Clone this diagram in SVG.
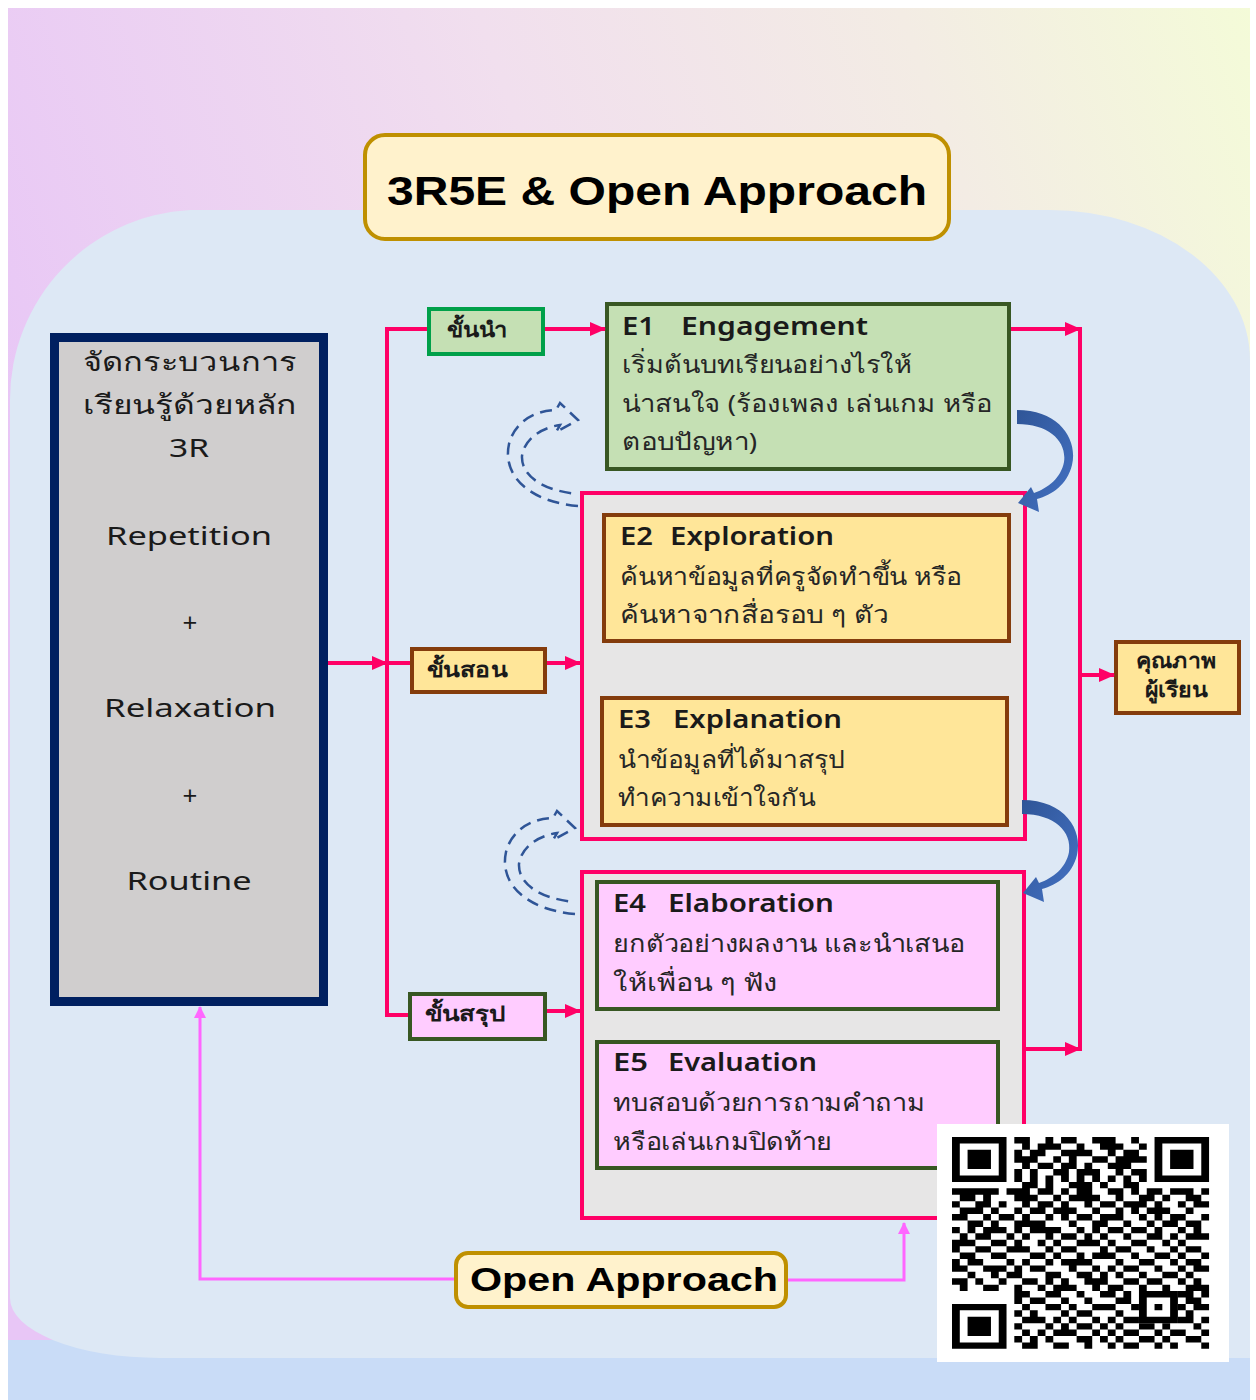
<svg xmlns="http://www.w3.org/2000/svg" width="1256" height="1400" viewBox="0 0 1256 1400">
<defs>
<linearGradient id="bg" gradientUnits="userSpaceOnUse" x1="0" y1="450" x2="1250" y2="0">
<stop offset="0" stop-color="#e8c6f6"/><stop offset="0.45" stop-color="#f1dfee"/><stop offset="0.75" stop-color="#f3ece4"/><stop offset="1" stop-color="#f4fbd8"/>
</linearGradient>
<linearGradient id="blue" x1="0" y1="0" x2="1" y2="1">
<stop offset="0" stop-color="#2f5597"/><stop offset="1" stop-color="#4472c4"/>
</linearGradient>
<marker id="ap" markerWidth="16" markerHeight="14" refX="15" refY="7" orient="auto" markerUnits="userSpaceOnUse"><path d="M0 0L16 7L0 14z" fill="#ff0066"/></marker>
<marker id="am" markerWidth="12" markerHeight="14" refX="11" refY="6" orient="auto" markerUnits="userSpaceOnUse"><path d="M0 0L12 6L0 12z" fill="#ff66ff"/></marker>
<style>
.th{font-family:"Noto Sans","DejaVu Sans",sans-serif;font-size:24px;fill:#262626}
.en{font-family:"Noto Sans","DejaVu Sans",sans-serif;font-size:25px;font-weight:600;fill:#1a1a1a}
.lb{font-family:"Noto Sans","DejaVu Sans",sans-serif;font-size:26px;fill:#1a1a1a}
.st{font-family:"Noto Sans","DejaVu Sans",sans-serif;font-size:21px;font-weight:bold;fill:#1a1a1a}
.ttl{font-family:"Liberation Sans",Arial,sans-serif;font-weight:bold;fill:#000}
.pk{fill:none;stroke:#ff0066;stroke-width:4}
.mg{fill:none;stroke:#ff66ff;stroke-width:3}
.dash{fill:none;stroke:#2f5597;stroke-width:2.5;stroke-dasharray:12 7}
</style>
</defs>
<rect x="0" y="0" width="1256" height="1400" fill="#ffffff"/>
<rect x="8" y="8" width="1242" height="1392" fill="url(#bg)"/>
<rect x="8" y="1340" width="1242" height="60" fill="#c9dcf7"/>
<path d="M10 1298V400A190 190 0 0 1 190 210H1050A200 150 0 0 1 1250 360V1358H160A150 60 0 0 1 10 1298Z" fill="#dde8f5"/>

<g id="title"><rect x="365" y="135" width="584" height="104" rx="20" fill="#fff2cc" stroke="#bf9000" stroke-width="4"/>
<text class="ttl" x="657" y="205" text-anchor="middle" font-size="40" textLength="540" lengthAdjust="spacingAndGlyphs">3R5E &amp; Open Approach</text></g>

<g id="left3r"><rect x="54.5" y="337.5" width="269" height="664" fill="#d0cece" stroke="#002060" stroke-width="9"/>
<text class="lb" x="190" y="371" text-anchor="middle" textLength="214" lengthAdjust="spacingAndGlyphs">จัดกระบวนการ</text>
<text class="lb" x="190" y="414" text-anchor="middle" textLength="214" lengthAdjust="spacingAndGlyphs">เรียนรู้ด้วยหลัก</text>
<text class="lb" x="189" y="457" text-anchor="middle" textLength="40" lengthAdjust="spacingAndGlyphs">3R</text>
<text class="lb" x="189" y="545" text-anchor="middle" textLength="166" lengthAdjust="spacingAndGlyphs">Repetition</text>
<text class="lb" x="190" y="632" text-anchor="middle" font-size="30">+</text>
<text class="lb" x="190" y="717" text-anchor="middle" textLength="172" lengthAdjust="spacingAndGlyphs">Relaxation</text>
<text class="lb" x="190" y="805" text-anchor="middle" font-size="30">+</text>
<text class="lb" x="189" y="890" text-anchor="middle" textLength="125" lengthAdjust="spacingAndGlyphs">Routine</text></g>

<g id="step1"><rect x="429" y="309" width="114" height="45" fill="#c5e0b4" stroke="#00a04a" stroke-width="4"/>
<text class="st" x="447" y="337" textLength="61" lengthAdjust="spacingAndGlyphs">ขั้นนำ</text></g>
<g id="step2"><rect x="412" y="649" width="133" height="43" fill="#ffe699" stroke="#843c0c" stroke-width="4"/>
<text class="st" x="427" y="677" textLength="80" lengthAdjust="spacingAndGlyphs">ขั้นสอน</text></g>
<g id="step3"><rect x="410" y="994" width="135" height="45" fill="#ffccff" stroke="#385723" stroke-width="4"/>
<text class="st" x="425" y="1021" textLength="80" lengthAdjust="spacingAndGlyphs">ขั้นสรุป</text></g>

<g id="e1"><rect x="607" y="304" width="402" height="165" fill="#c5e0b4" stroke="#385723" stroke-width="4"/>
<text class="en" x="622" y="335" textLength="33" lengthAdjust="spacingAndGlyphs">E1</text>
<text class="en" x="681" y="335" textLength="187" lengthAdjust="spacingAndGlyphs">Engagement</text>
<text class="th" x="622" y="373" textLength="290" lengthAdjust="spacingAndGlyphs">เริ่มต้นบทเรียนอย่างไรให้</text>
<text class="th" x="622" y="412" textLength="370" lengthAdjust="spacingAndGlyphs">น่าสนใจ (ร้องเพลง เล่นเกม หรือ</text>
<text class="th" x="622" y="450" textLength="135" lengthAdjust="spacingAndGlyphs">ตอบปัญหา)</text></g>

<g id="group1"><rect x="582" y="493" width="443" height="346" fill="#e7e6e6" stroke="#ff0066" stroke-width="4"/></g>
<g id="e2"><rect x="604" y="515" width="405" height="126" fill="#ffe699" stroke="#843c0c" stroke-width="4"/>
<text class="en" x="620" y="545" textLength="33" lengthAdjust="spacingAndGlyphs">E2</text>
<text class="en" x="670" y="545" textLength="164" lengthAdjust="spacingAndGlyphs">Exploration</text>
<text class="th" x="620" y="585" textLength="342" lengthAdjust="spacingAndGlyphs">ค้นหาข้อมูลที่ครูจัดทำขึ้น หรือ</text>
<text class="th" x="620" y="623" textLength="268" lengthAdjust="spacingAndGlyphs">ค้นหาจากสื่อรอบ ๆ ตัว</text></g>
<g id="e3"><rect x="602" y="698" width="405" height="127" fill="#ffe699" stroke="#843c0c" stroke-width="4"/>
<text class="en" x="618" y="728" textLength="33" lengthAdjust="spacingAndGlyphs">E3</text>
<text class="en" x="673" y="728" textLength="169" lengthAdjust="spacingAndGlyphs">Explanation</text>
<text class="th" x="618" y="768" textLength="227" lengthAdjust="spacingAndGlyphs">นำข้อมูลที่ได้มาสรุป</text>
<text class="th" x="618" y="806" textLength="197" lengthAdjust="spacingAndGlyphs">ทำความเข้าใจกัน</text></g>

<g id="group2"><rect x="582" y="872" width="442" height="346" fill="#e7e6e6" stroke="#ff0066" stroke-width="4"/></g>
<g id="e4"><rect x="597" y="882" width="401" height="127" fill="#ffccff" stroke="#385723" stroke-width="4"/>
<text class="en" x="613" y="912" textLength="33" lengthAdjust="spacingAndGlyphs">E4</text>
<text class="en" x="668" y="912" textLength="166" lengthAdjust="spacingAndGlyphs">Elaboration</text>
<text class="th" x="613" y="952" textLength="352" lengthAdjust="spacingAndGlyphs">ยกตัวอย่างผลงาน และนำเสนอ</text>
<text class="th" x="613" y="991" textLength="165" lengthAdjust="spacingAndGlyphs">ให้เพื่อน ๆ ฟัง</text></g>
<g id="e5"><rect x="597" y="1042" width="401" height="126" fill="#ffccff" stroke="#385723" stroke-width="4"/>
<text class="en" x="613" y="1071" textLength="35" lengthAdjust="spacingAndGlyphs">E5</text>
<text class="en" x="668" y="1071" textLength="149" lengthAdjust="spacingAndGlyphs">Evaluation</text>
<text class="th" x="613" y="1111" textLength="312" lengthAdjust="spacingAndGlyphs">ทบสอบด้วยการถามคำถาม</text>
<text class="th" x="613" y="1150" textLength="219" lengthAdjust="spacingAndGlyphs">หรือเล่นเกมปิดท้าย</text></g>

<g id="quality"><rect x="1116" y="642" width="123" height="71" fill="#ffe699" stroke="#843c0c" stroke-width="4"/>
<text class="st" x="1176" y="668" text-anchor="middle" font-size="19" textLength="80" lengthAdjust="spacingAndGlyphs">คุณภาพ</text>
<text class="st" x="1176" y="697" text-anchor="middle" font-size="19" textLength="62" lengthAdjust="spacingAndGlyphs">ผู้เรียน</text></g>

<g id="openapproach"><rect x="456" y="1253" width="330" height="54" rx="12" fill="#fff2cc" stroke="#bf9000" stroke-width="4"/>
<text class="ttl" x="624" y="1291" text-anchor="middle" font-size="33" textLength="308" lengthAdjust="spacingAndGlyphs">Open Approach</text></g>

<g id="connectors">
<path class="pk" d="M328 663H387" marker-end="url(#ap)"/>
<path class="pk" d="M387 329V1017"/>
<path class="pk" d="M385 329H427"/>
<path class="pk" d="M387 663H410"/>
<path class="pk" d="M385 1015H408"/>
<path class="pk" d="M545 329H605" marker-end="url(#ap)"/>
<path class="pk" d="M547 663H580" marker-end="url(#ap)"/>
<path class="pk" d="M547 1011H580" marker-end="url(#ap)"/>
<path class="pk" d="M1011 329H1080" marker-end="url(#ap)"/>
<path class="pk" d="M1080 327V1051"/>
<path class="pk" d="M1026 1049H1080" marker-end="url(#ap)"/>
<path class="pk" d="M1080 675H1114" marker-end="url(#ap)"/>
<path class="mg" d="M454 1279H200V1007" marker-end="url(#am)"/>
<path class="mg" d="M788 1280H904V1223" marker-end="url(#am)"/>
<path id="loop" class="dash" d="M578 506C530 502 502 476 509 444C515 420 538 410 556 410L560 403L578 420L556 432L560 425C540 428 524 440 522 456C521 477 545 491 578 494"/>
<use href="#loop" transform="translate(-3 408)"/>
<path id="curve" fill="url(#blue)" d="M1017 410C1060 410 1078 440 1072 465C1067 485 1052 495 1037 499L1039 512L1018 503L1031 487L1034 493C1048 488 1061 478 1064 462C1067 442 1050 424 1017 424Z"/>
<use href="#curve" transform="translate(5 390)"/>
</g>

<g id="qr"><rect x="937" y="1124" width="292" height="238" fill="#ffffff"/>
<g transform="translate(952 1137) scale(7.79 6.42)" fill="#000">
<path fill-rule="evenodd" d="M0 0h7v7H0z M1 1h5v5H1z M2 2h3v3H2z M26 0h7v7h-7z M27 1h5v5h-5z M28 2h3v3h-3z M0 26h7v7H0z M1 27h5v5H1z M2 28h3v3H2z M24 24h5v5h-5z M25 25h3v3h-3z M26 26h1v1h-1z"/>
<path d="M8 0h2v1h-2zM12 0h1v1h-1zM14 0h2v1h-2zM18 0h3v1h-3zM23 0h1v1h-1z
M9 1h1v1h-1zM11 1h3v1h-3zM16 1h1v1h-1zM19 1h3v1h-3zM24 1h1v1h-1z
M8 2h1v1h-1zM10 2h2v1h-2zM14 2h4v1h-4zM20 2h1v1h-1zM22 2h2v1h-2z
M8 3h3v1h-3zM13 3h1v1h-1zM15 3h1v1h-1zM18 3h2v1h-2zM21 3h4v1h-4z
M9 4h1v1h-1zM11 4h2v1h-2zM14 4h2v1h-2zM17 4h1v1h-1zM20 4h3v1h-3z
M8 5h1v1h-1zM10 5h1v1h-1zM13 5h2v1h-2zM16 5h3v1h-3zM21 5h1v1h-1zM23 5h2v1h-2z
M8 6h1v1h-1zM10 6h1v1h-1zM12 6h1v1h-1zM14 6h1v1h-1zM16 6h1v1h-1zM18 6h1v1h-1zM20 6h1v1h-1zM22 6h1v1h-1zM24 6h1v1h-1z
M9 7h2v1h-2zM12 7h1v1h-1zM15 7h3v1h-3zM19 7h1v1h-1zM22 7h2v1h-2z
M0 8h6v1h-6zM7 8h3v1h-3zM11 8h2v1h-2zM14 8h1v1h-1zM16 8h2v1h-2zM20 8h2v1h-2zM23 8h1v1h-1zM25 8h2v1h-2zM28 8h3v1h-3zM32 8h1v1h-1z
M1 9h2v1h-2zM4 9h1v1h-1zM8 9h3v1h-3zM13 9h1v1h-1zM15 9h4v1h-4zM21 9h1v1h-1zM24 9h2v1h-2zM27 9h1v1h-1zM30 9h2v1h-2z
M0 10h1v1h-1zM3 10h2v1h-2zM6 10h1v1h-1zM9 10h1v1h-1zM11 10h2v1h-2zM14 10h1v1h-1zM17 10h1v1h-1zM19 10h2v1h-2zM22 10h3v1h-3zM26 10h1v1h-1zM29 10h1v1h-1zM31 10h2v1h-2z
M1 11h3v1h-3zM5 11h1v1h-1zM8 11h1v1h-1zM10 11h2v1h-2zM13 11h3v1h-3zM18 11h1v1h-1zM21 11h1v1h-1zM23 11h1v1h-1zM25 11h3v1h-3zM30 11h1v1h-1z
M0 12h2v1h-2zM4 12h1v1h-1zM6 12h2v1h-2zM9 12h1v1h-1zM12 12h1v1h-1zM14 12h1v1h-1zM16 12h2v1h-2zM19 12h3v1h-3zM24 12h1v1h-1zM26 12h1v1h-1zM28 12h2v1h-2zM32 12h1v1h-1z
M2 13h2v1h-2zM5 13h1v1h-1zM8 13h4v1h-4zM15 13h1v1h-1zM18 13h2v1h-2zM22 13h1v1h-1zM25 13h1v1h-1zM27 13h2v1h-2zM30 13h2v1h-2z
M0 14h1v1h-1zM2 14h1v1h-1zM4 14h3v1h-3zM8 14h1v1h-1zM10 14h4v1h-4zM16 14h1v1h-1zM18 14h1v1h-1zM20 14h2v1h-2zM23 14h2v1h-2zM26 14h1v1h-1zM29 14h1v1h-1zM31 14h1v1h-1z
M1 15h1v1h-1zM3 15h2v1h-2zM7 15h1v1h-1zM9 15h1v1h-1zM12 15h1v1h-1zM14 15h2v1h-2zM17 15h1v1h-1zM19 15h1v1h-1zM22 15h1v1h-1zM25 15h2v1h-2zM28 15h1v1h-1zM30 15h3v1h-3z
M0 16h3v1h-3zM5 16h2v1h-2zM8 16h1v1h-1zM11 16h1v1h-1zM13 16h1v1h-1zM16 16h3v1h-3zM20 16h1v1h-1zM23 16h2v1h-2zM27 16h1v1h-1zM29 16h1v1h-1z
M0 17h1v1h-1zM3 17h2v1h-2zM7 17h3v1h-3zM12 17h1v1h-1zM14 17h2v1h-2zM19 17h1v1h-1zM21 17h2v1h-2zM25 17h1v1h-1zM28 17h1v1h-1zM30 17h2v1h-2z
M1 18h2v1h-2zM5 18h2v1h-2zM10 18h2v1h-2zM13 18h1v1h-1zM16 18h1v1h-1zM18 18h3v1h-3zM23 18h1v1h-1zM26 18h2v1h-2zM29 18h1v1h-1zM32 18h1v1h-1z
M0 19h1v1h-1zM2 19h2v1h-2zM7 19h1v1h-1zM9 19h1v1h-1zM12 19h1v1h-1zM14 19h4v1h-4zM21 19h1v1h-1zM24 19h2v1h-2zM28 19h1v1h-1zM30 19h2v1h-2z
M0 20h2v1h-2zM4 20h3v1h-3zM8 20h1v1h-1zM10 20h2v1h-2zM15 20h1v1h-1zM18 20h1v1h-1zM20 20h1v1h-1zM22 20h2v1h-2zM26 20h1v1h-1zM29 20h1v1h-1zM31 20h2v1h-2z
M2 21h1v1h-1zM5 21h1v1h-1zM7 21h2v1h-2zM12 21h2v1h-2zM16 21h2v1h-2zM19 21h1v1h-1zM21 21h1v1h-1zM24 21h1v1h-1zM27 21h2v1h-2zM30 21h1v1h-1z
M0 22h2v1h-2zM3 22h1v1h-1zM6 22h1v1h-1zM9 22h2v1h-2zM12 22h1v1h-1zM14 22h1v1h-1zM17 22h3v1h-3zM22 22h2v1h-2zM25 22h2v1h-2zM29 22h1v1h-1zM31 22h1v1h-1z
M1 23h1v1h-1zM4 23h2v1h-2zM8 23h1v1h-1zM11 23h1v1h-1zM13 23h3v1h-3zM18 23h1v1h-1zM20 23h2v1h-2zM24 23h1v1h-1zM27 23h1v1h-1zM30 23h3v1h-3z
M8 24h2v1h-2zM12 24h2v1h-2zM16 24h1v1h-1zM19 24h2v1h-2zM22 24h1v1h-1zM29 24h2v1h-2zM32 24h1v1h-1z
M8 25h1v1h-1zM10 25h2v1h-2zM14 25h1v1h-1zM17 25h1v1h-1zM21 25h2v1h-2zM30 25h2v1h-2z
M9 26h1v1h-1zM12 26h2v1h-2zM15 26h1v1h-1zM18 26h3v1h-3zM23 26h1v1h-1zM29 26h1v1h-1zM31 26h2v1h-2z
M8 27h1v1h-1zM10 27h1v1h-1zM14 27h1v1h-1zM16 27h2v1h-2zM21 27h1v1h-1zM30 27h1v1h-1z
M9 28h3v1h-3zM13 28h1v1h-1zM15 28h1v1h-1zM18 28h1v1h-1zM20 28h1v1h-1zM22 28h2v1h-2zM29 28h2v1h-2zM32 28h1v1h-1z
M8 29h1v1h-1zM12 29h1v1h-1zM14 29h1v1h-1zM16 29h2v1h-2zM19 29h1v1h-1zM21 29h1v1h-1zM24 29h2v1h-2zM27 29h1v1h-1zM31 29h1v1h-1z
M9 30h1v1h-1zM11 30h1v1h-1zM13 30h3v1h-3zM18 30h1v1h-1zM20 30h1v1h-1zM22 30h2v1h-2zM26 30h1v1h-1zM28 30h2v1h-2zM32 30h1v1h-1z
M8 31h1v1h-1zM10 31h1v1h-1zM12 31h1v1h-1zM16 31h2v1h-2zM19 31h1v1h-1zM21 31h1v1h-1zM24 31h2v1h-2zM27 31h1v1h-1zM30 31h2v1h-2z
M9 32h2v1h-2zM13 32h2v1h-2zM17 32h1v1h-1zM20 32h1v1h-1zM22 32h2v1h-2zM26 32h1v1h-1zM28 32h1v1h-1zM32 32h1v1h-1z"/>
</g></g>
</svg>
